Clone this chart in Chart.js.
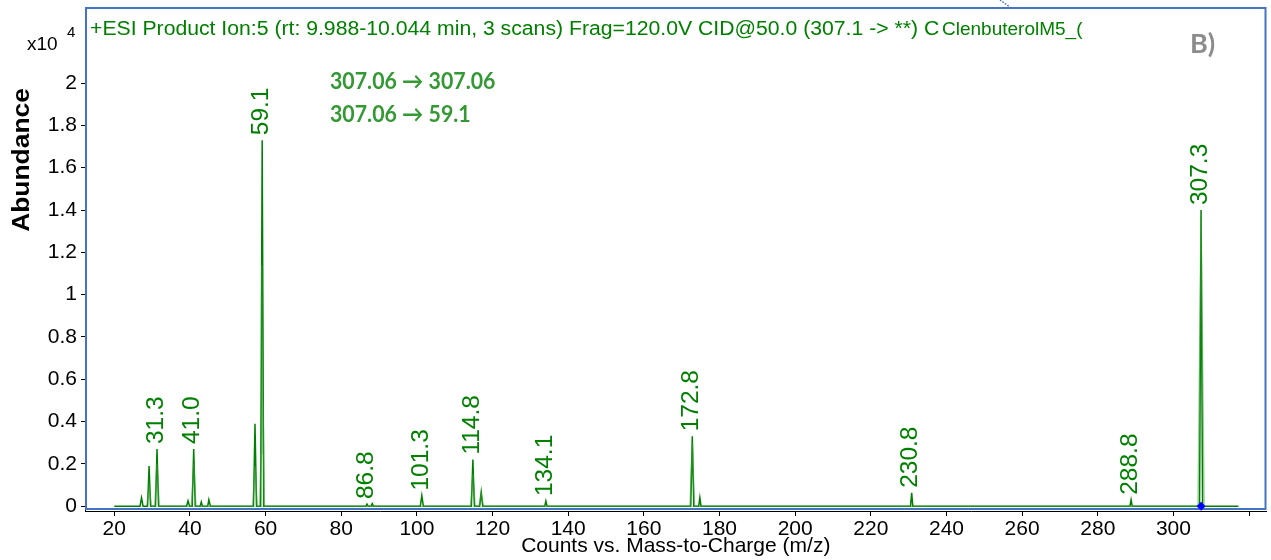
<!DOCTYPE html>
<html>
<head>
<meta charset="utf-8">
<title>Clenbuterol product ion spectrum</title>
<script src="https://cdn.jsdelivr.net/npm/chart.js@4.4.1/dist/chart.umd.min.js"></script>
<style>
  html, body { margin: 0; padding: 0; background: #fff; }
  #wrap { width: 1271px; height: 560px; }
</style>
</head>
<body>
<div id="wrap"><canvas id="spectrum" width="1271" height="560"></canvas></div>
<script>
// main profile trace (m/z, abundance x10^4)
const mzMain = [20, 26.8, 27.2, 27.6, 28.8, 29.2, 29.6, 30.9, 31.3, 31.7,
  39.1, 39.5, 39.9, 40.6, 41.0, 41.4, 42.7, 43.0, 43.3, 44.7, 45.0, 45.4,
  56.8, 57.2, 57.6, 58.7, 59.1, 59.5, 86.5, 86.8, 87.1, 87.9, 88.2, 88.5,
  100.9, 101.3, 101.7, 114.4, 114.8, 115.2, 116.6, 117.0, 117.4,
  133.8, 134.1, 134.4, 172.4, 172.8, 173.2, 174.5, 174.8, 175.1,
  230.5, 230.8, 231.1, 288.5, 288.8, 289.1, 306.9, 307.3, 307.7, 317.2];
const abMain = [0, 0, 0.04, 0, 0, 0.19, 0, 0, 0.27, 0,
  0, 0.025, 0, 0, 0.27, 0, 0, 0.02, 0, 0, 0.03, 0,
  0, 0.39, 0, 0, 1.73, 0, 0, 0.01, 0, 0, 0.012, 0,
  0, 0.05, 0, 0, 0.22, 0, 0, 0.066, 0,
  0, 0.024, 0, 0, 0.33, 0, 0, 0.04, 0,
  0, 0.063, 0, 0, 0.03, 0, 0, 1.40, 0, 0];

// fainter overlaid scans
const mzScan = [28.6, 29.2, 29.8, 30.7, 31.3, 31.9, 40.4, 41.0, 41.6,
  56.6, 57.2, 57.8, 58.4, 58.8, 59.0, 59.25, 59.7,
  114.2, 114.8, 115.4, 116.4, 117.0, 117.6, 172.2, 172.8, 173.4, 306.5, 307.3, 308.1];
const abScan = [0, 0.1, 0, 0, 0.2, 0, 0, 0.2, 0,
  0, 0.19, 0, 0, 0.25, 1.14, 0.55, 0,
  0, 0.15, 0, 0, 0.06, 0, 0, 0.3, 0, 0, 1.38, 0];

// annotated peaks
const peakMz = [31.3, 41.0, 59.1, 86.8, 101.3, 114.8, 134.1, 172.8, 230.8, 288.8, 307.3];
const peakAb = [0.27, 0.27, 1.73, 0.01, 0.05, 0.22, 0.024, 0.33, 0.063, 0.03, 1.40];

// precursor marker
const precursorMz = [307.3];
const precursorAb = [0];

const xTicks = [20, 40, 60, 80, 100, 120, 140, 160, 180, 200, 220, 240, 260, 280, 300, 320];
const xTickLabels = ['20', '40', '60', '80', '100', '120', '140', '160', '180', '200',
  '220', '240', '260', '280', '300', ''];
const yTicks = [0, 0.2, 0.4, 0.6, 0.8, 1, 1.2, 1.4, 1.6, 1.8, 2];

const transitions = ['307.06 \u2192 307.06', '307.06 \u2192 59.1'];
const header = '+ESI Product Ion:5 (rt: 9.988-10.044 min, 3 scans) Frag=120.0V CID@50.0 (307.1 -> **) C';
const compound = 'ClenbuterolM5_(';

const ARIAL = '"Liberation Sans", Arial, sans-serif';
const GREEN = '#008000';

const pts = (xs, ys) => xs.map((v, i) => ({ x: v, y: ys[i] }));

// text drawn with a horizontal stretch factor
function wideText(ctx, text, x, y, sx) {
  ctx.save();
  ctx.translate(x, y);
  ctx.scale(sx, 1);
  ctx.fillText(text, 0, 0);
  ctx.restore();
}

const decor = {
  id: 'decor',
  beforeDatasetsDraw(chart) {
    const { ctx, chartArea: a } = chart;
    ctx.save();
    ctx.strokeStyle = '#4472c4';
    ctx.lineWidth = 2;
    ctx.strokeRect(a.left + 1, a.top, a.right - a.left - 2, a.bottom - a.top - 2);
    // dotted connector above the frame
    ctx.setLineDash([1.5, 1.5]);
    ctx.lineWidth = 1.5;
    ctx.beginPath();
    ctx.moveTo(1000, 0);
    ctx.lineTo(1010, 7);
    ctx.stroke();
    ctx.restore();
  },
  afterDatasetsDraw(chart) {
    const { ctx, scales: { x, y } } = chart;
    ctx.save();

    // peak m/z labels
    ctx.fillStyle = GREEN;
    ctx.font = '24.5px ' + ARIAL;
    ctx.textAlign = 'left';
    ctx.textBaseline = 'middle';
    peakMz.forEach((m, i) => {
      const px = x.getPixelForValue(m);
      const py = y.getPixelForValue(peakAb[i]);
      ctx.save();
      ctx.translate(px - 1, py - 5);
      ctx.rotate(-Math.PI / 2);
      ctx.fillText(m.toFixed(1), 0, 0);
      ctx.restore();
    });

    // header line
    ctx.textBaseline = 'alphabetic';
    ctx.font = '19.5px ' + ARIAL;
    wideText(ctx, header, 90, 35, 1.087);
    ctx.save();
    ctx.beginPath();
    ctx.rect(940, 10, 157, 40);
    ctx.clip();
    ctx.font = '19px ' + ARIAL;
    wideText(ctx, compound, 942, 35, 1.0);
    ctx.restore();

    // transitions
    ctx.fillStyle = '#339933';
    ctx.font = 'bold 23px Lato, sans-serif';
    wideText(ctx, transitions[0], 330, 89, 0.927);
    wideText(ctx, transitions[1], 330, 122, 0.927);

    // panel letter
    ctx.fillStyle = '#8c8c8c';
    ctx.font = 'bold 27px Lato, sans-serif';
    ctx.fillText('B)', 1190, 53);

    // exponent
    ctx.fillStyle = '#000';
    ctx.font = '19px ' + ARIAL;
    ctx.fillText('x10', 27, 50);
    ctx.font = '15px ' + ARIAL;
    ctx.fillText('4', 67, 37);

    // y title
    ctx.save();
    ctx.translate(29, 160);
    ctx.rotate(-Math.PI / 2);
    ctx.textAlign = 'center';
    ctx.font = 'bold 24px ' + ARIAL;
    wideText(ctx, 'Abundance', 0, 0, 1.1);
    ctx.restore();

    ctx.restore();
  }
};

new Chart(document.getElementById('spectrum'), {
  type: 'line',
  data: {
    datasets: [
      {
        data: pts(mzMain, abMain),
        borderColor: GREEN,
        borderWidth: 1.5,
        pointRadius: 0,
        tension: 0,
        order: 2
      },
      {
        data: pts(mzScan, abScan),
        borderColor: 'rgba(60, 160, 60, 0.5)',
        borderWidth: 1.5,
        pointRadius: 0,
        tension: 0,
        order: 1
      },
      {
        data: pts(precursorMz, precursorAb),
        showLine: false,
        pointStyle: 'rectRot',
        pointRadius: 4.5,
        backgroundColor: '#0000ff',
        borderColor: '#0000ff',
        borderWidth: 0,
        order: 0
      }
    ]
  },
  options: {
    responsive: false,
    animation: false,
    devicePixelRatio: 1,
    layout: { padding: { left: 0, top: 8, right: 3, bottom: 0 } },
    plugins: { legend: { display: false }, tooltip: { enabled: false } },
    scales: {
      x: {
        type: 'linear',
        min: 12.26,
        max: 324.6,
        afterBuildTicks: s => { s.ticks = xTicks.map(v => ({ value: v })); },
        afterFit: s => { s.height = 49; s.paddingLeft = 0; s.paddingRight = 0; },
        grid: { drawOnChartArea: false, drawTicks: true, tickLength: 5, color: '#000' },
        border: { color: '#000', width: 1 },
        ticks: {
          autoSkip: false,
          maxRotation: 0,
          padding: 1,
          color: '#000',
          font: { family: ARIAL, size: 21 },
          callback: (v, i) => xTickLabels[i]
        },
        title: {
          display: true,
          text: 'Counts vs. Mass-to-Charge (m/z)',
          color: '#000',
          font: { family: ARIAL, size: 21 },
          padding: { top: 0, bottom: 1 }
        }
      },
      y: {
        min: -0.023,
        max: 2.355,
        afterBuildTicks: s => { s.ticks = yTicks.map(v => ({ value: v })); },
        afterFit: s => { s.width = 85; s.paddingTop = 0; s.paddingBottom = 0; },
        grid: { drawOnChartArea: false, drawTicks: true, tickLength: 4, color: '#000' },
        border: { color: '#000', width: 1 },
        ticks: {
          padding: 4,
          color: '#000',
          font: { family: ARIAL, size: 21 },
          callback: v => String(+v.toFixed(1))
        }
      }
    }
  },
  plugins: [decor]
});
</script>
</body>
</html>
